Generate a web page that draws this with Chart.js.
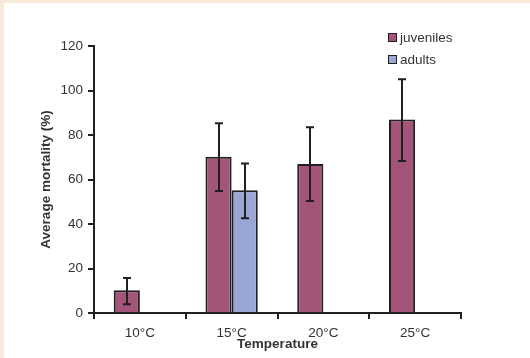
<!DOCTYPE html>
<html>
<head>
<meta charset="utf-8">
<script src="https://cdn.jsdelivr.net/npm/chart.js@4.4.1/dist/chart.umd.min.js"></script>
<style>
  html, body { margin: 0; padding: 0; }
  body { width: 530px; height: 358px; background: #fff; position: relative; overflow: hidden; font-family: "Liberation Sans", Arial, sans-serif; }
  .frame-left { position: absolute; left: 0; top: 0; width: 4px; height: 358px; background: #f9eadb; }
  .frame-top { position: absolute; left: 0; top: 0; width: 530px; height: 3px; background: #f9eadb; }
  #wrap { position: absolute; left: 0; top: 0; width: 530px; height: 358px; }
  .legend { position: absolute; left: 388px; top: 30px; font-size: 13.5px; color: #333; }
  .legend div { height: 22px; line-height: 16px; }
  .legend span.box { display: inline-block; width: 7px; height: 7px; border: 1.5px solid #231f20; margin-right: 3px; vertical-align: 0px; }
</style>
</head>
<body>
<div class="frame-left"></div>
<div class="frame-top"></div>
<div id="wrap"><canvas id="mortalityChart" width="530" height="358"></canvas></div>
<div class="legend">
  <div><span class="box" style="background:#a25578"></span>juveniles</div>
  <div><span class="box" style="background:#9aa7d4"></span>adults</div>
</div>
<script>
const temperatures = ['10°C', '15°C', '20°C', '25°C'];
const juveniles = [10.2, 70.2, 67, 87];
const juvenilesLow = [3.9, 54.8, 50.3, 68.3];
const juvenilesHigh = [15.7, 85.3, 83.5, 105.1];
const adults = [0, 55.2, 0, 0];
const adultsLow = [null, 42.6, null, null];
const adultsHigh = [null, 67.2, null, null];

// error bars drawn on top of the bars, using the y scale
const errorBars = {
    id: 'errorBars',
    afterDatasetsDraw(chart) {
        const ctx = chart.ctx;
        const yScale = chart.scales.y;
        const ranges = [[juvenilesLow, juvenilesHigh], [adultsLow, adultsHigh]];
        ctx.save();
        ctx.strokeStyle = '#231f20';
        ctx.lineWidth = 2;
        ranges.forEach(([low, high], di) => {
            const meta = chart.getDatasetMeta(di);
            meta.data.forEach((bar, i) => {
                if (low[i] == null) return;
                const x = Math.round(bar.x);
                const yTop = yScale.getPixelForValue(high[i]);
                const yBot = yScale.getPixelForValue(low[i]);
                ctx.beginPath();
                ctx.moveTo(x, yTop); ctx.lineTo(x, yBot);
                ctx.moveTo(x - 4, yTop); ctx.lineTo(x + 4, yTop);
                ctx.moveTo(x - 4, yBot); ctx.lineTo(x + 4, yBot);
                ctx.stroke();
            });
        });
        ctx.restore();
    }
};

const ctx = document.getElementById('mortalityChart');
new Chart(ctx, {
    type: 'bar',
    data: {
        labels: temperatures,
        datasets: [{
            label: 'juveniles',
            data: juveniles,
            backgroundColor: '#a25578',
            borderColor: '#231f20',
            borderWidth: 2,
            borderSkipped: 'bottom'
        }, {
            label: 'adults',
            data: adults,
            backgroundColor: '#9aa7d4',
            borderColor: '#231f20',
            borderWidth: 2,
            borderSkipped: 'bottom'
        }]
    },
    options: {
        responsive: false,
        animation: false,
        layout: { padding: { left: 38, right: 69, top: 46, bottom: 0 } },
        datasets: { bar: { categoryPercentage: 0.57, barPercentage: 1.0 } },
        plugins: { legend: { display: false }, tooltip: { enabled: false } },
        scales: {
            x: {
                afterFit: (scale) => { scale.height = 45; },
                grid: { display: true, drawOnChartArea: false, offset: true, color: '#231f20', lineWidth: 2, tickLength: 6 },
                border: { color: '#231f20', width: 2 },
                ticks: { color: '#333', font: { family: 'Liberation Sans', size: 13.5 }, padding: 6 },
                title: { display: true, text: 'Temperature', color: '#333', font: { family: 'Liberation Sans', size: 13.5, weight: 'bold' }, padding: { top: 0, bottom: 6 } }
            },
            y: {
                min: 0,
                max: 120,
                afterFit: (scale) => { scale.width = 56; },
                grid: { display: true, drawOnChartArea: false, color: '#231f20', lineWidth: 2, tickLength: 6 },
                border: { color: '#231f20', width: 2 },
                ticks: { stepSize: 20, color: '#333', font: { family: 'Liberation Sans', size: 13.5 }, padding: 5 },
                title: { display: true, text: 'Average mortality (%)', color: '#333', font: { family: 'Liberation Sans', size: 13.5, weight: 'bold' }, padding: { top: 0, bottom: 0 } }
            }
        }
    },
    plugins: [errorBars]
});
</script>
</body>
</html>
